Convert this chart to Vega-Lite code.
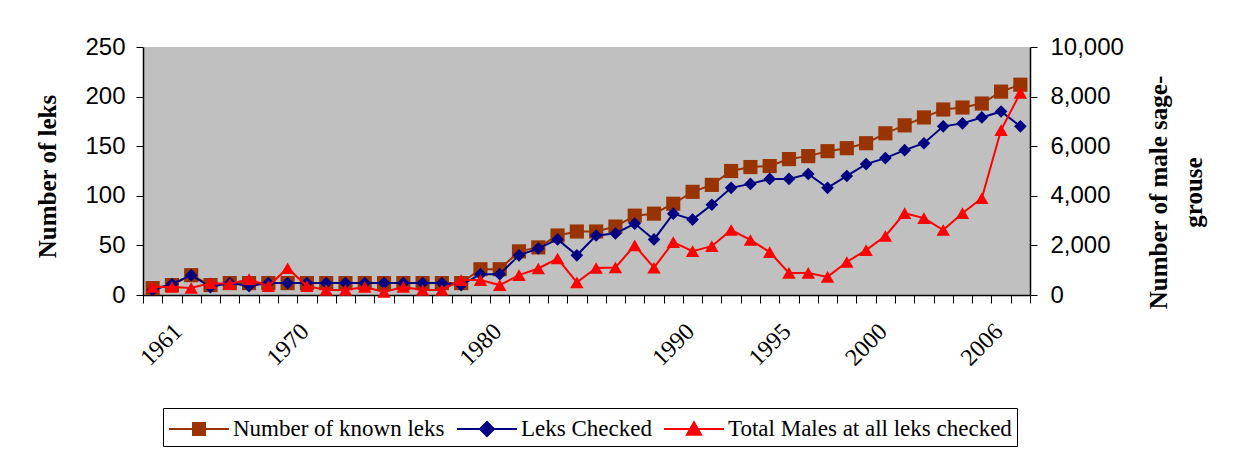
{
  "$schema": "https://vega.github.io/schema/vega-lite/v6.json",
  "width": 887,
  "height": 248,
  "autosize": {"type": "none"},
  "padding": {"left": 143, "top": 47, "right": 229, "bottom": 164},
  "background": "white",
  "config": {
    "view": {"fill": "#C0C0C0", "stroke": null},
    "axis": {"grid": false, "domainColor": "black", "tickColor": "black", "labelColor": "black", "titleColor": "black", "domainWidth": 1.5, "tickWidth": 1}
  },
  "data": {"values": [
    {"year": 1961, "known": 7, "checked": 5, "males": 320},
    {"year": 1962, "known": 10, "checked": 11, "males": 320},
    {"year": 1963, "known": 20, "checked": 20, "males": 280},
    {"year": 1964, "known": 10, "checked": 8, "males": 480},
    {"year": 1965, "known": 12, "checked": 12, "males": 440},
    {"year": 1966, "known": 12, "checked": 9, "males": 640},
    {"year": 1967, "known": 12, "checked": 12, "males": 360},
    {"year": 1968, "known": 12, "checked": 12, "males": 1080},
    {"year": 1969, "known": 12, "checked": 12, "males": 360},
    {"year": 1970, "known": 12, "checked": 12, "males": 200},
    {"year": 1971, "known": 12, "checked": 12, "males": 200},
    {"year": 1972, "known": 12, "checked": 12, "males": 320},
    {"year": 1973, "known": 12, "checked": 12, "males": 120},
    {"year": 1974, "known": 12, "checked": 12, "males": 320},
    {"year": 1975, "known": 12, "checked": 12, "males": 200},
    {"year": 1976, "known": 12, "checked": 12, "males": 200},
    {"year": 1977, "known": 12, "checked": 10, "males": 600},
    {"year": 1978, "known": 26, "checked": 21, "males": 600},
    {"year": 1979, "known": 26, "checked": 21, "males": 400},
    {"year": 1980, "known": 44, "checked": 40, "males": 800},
    {"year": 1981, "known": 48, "checked": 47, "males": 1070},
    {"year": 1982, "known": 60, "checked": 56, "males": 1470},
    {"year": 1983, "known": 64, "checked": 40, "males": 510},
    {"year": 1984, "known": 64, "checked": 60, "males": 1090},
    {"year": 1985, "known": 69, "checked": 62, "males": 1110},
    {"year": 1986, "known": 80, "checked": 72, "males": 2000},
    {"year": 1987, "known": 82, "checked": 56, "males": 1100},
    {"year": 1988, "known": 92, "checked": 82, "males": 2130},
    {"year": 1989, "known": 104, "checked": 76, "males": 1770},
    {"year": 1990, "known": 111, "checked": 91, "males": 1970},
    {"year": 1991, "known": 125, "checked": 108, "males": 2620},
    {"year": 1992, "known": 129, "checked": 112, "males": 2220},
    {"year": 1993, "known": 130, "checked": 117, "males": 1730},
    {"year": 1994, "known": 137, "checked": 117, "males": 890},
    {"year": 1995, "known": 140, "checked": 122, "males": 890},
    {"year": 1996, "known": 145, "checked": 108, "males": 730},
    {"year": 1997, "known": 148, "checked": 120, "males": 1330},
    {"year": 1998, "known": 153, "checked": 132, "males": 1810},
    {"year": 1999, "known": 163, "checked": 138, "males": 2380},
    {"year": 2000, "known": 171, "checked": 146, "males": 3300},
    {"year": 2001, "known": 179, "checked": 153, "males": 3100},
    {"year": 2002, "known": 187, "checked": 170, "males": 2620},
    {"year": 2003, "known": 189, "checked": 173, "males": 3300},
    {"year": 2004, "known": 193, "checked": 179, "males": 3900},
    {"year": 2005, "known": 205, "checked": 185, "males": 6650},
    {"year": 2006, "known": 212, "checked": 170, "males": 8150}
  ]},
  "encoding": {
    "x": {
      "field": "year", "type": "ordinal", "bandPosition": 0.5, "title": null,
      "scale": {"type": "band", "paddingInner": 0, "paddingOuter": 0},
      "axis": {
        "tickBand": "extent", "tickSize": 8, "labelAngle": -45, "labelAlign": "right", "labelBaseline": "top",
        "labelPadding": 16, "labelFont": "Liberation Serif", "labelFontSize": 24, "labelOverlap": false,
        "labelOffset": {"condition": {"test": "datum.value == 1961", "value": 17}, "value": -30},
        "labelExpr": "(datum.value == 1961 || datum.value == 1970 || datum.value == 1980 || datum.value == 1990 || datum.value == 1995 || datum.value == 2000 || datum.value == 2006) ? datum.label : ''"
      }
    }
  },
  "layer": [
    {
      "layer": [
        {
          "mark": {"type": "line", "color": "#993300", "strokeWidth": 2},
          "encoding": {"y": {"field": "known", "type": "quantitative", "scale": {"domain": [0, 250]},
            "axis": {"title": "Number of leks", "titleFont": "Liberation Serif", "titleFontSize": 25, "titleFontWeight": "bold",
              "titleAngle": 270, "titleX": -108, "titleY": 129, "titleAlign": "center", "titleBaseline": "top",
              "labelFont": "Liberation Sans", "labelFontSize": 24, "values": [0, 50, 100, 150, 200, 250], "tickSize": 7, "labelPadding": 11}}}
        },
        {
          "mark": {"type": "point", "shape": "square", "filled": true, "color": "#993300", "size": 200, "opacity": 1},
          "encoding": {"y": {"field": "known", "type": "quantitative", "scale": {"domain": [0, 250]},
            "axis": {"title": "Number of leks", "titleFont": "Liberation Serif", "titleFontSize": 25, "titleFontWeight": "bold",
              "titleAngle": 270, "titleX": -108, "titleY": 129, "titleAlign": "center", "titleBaseline": "top",
              "labelFont": "Liberation Sans", "labelFontSize": 24, "values": [0, 50, 100, 150, 200, 250], "tickSize": 7, "labelPadding": 11}}}
        },
        {
          "mark": {"type": "line", "color": "#000080", "strokeWidth": 2},
          "encoding": {"y": {"field": "checked", "type": "quantitative", "scale": {"domain": [0, 250]},
            "axis": {"title": "Number of leks", "titleFont": "Liberation Serif", "titleFontSize": 25, "titleFontWeight": "bold",
              "titleAngle": 270, "titleX": -108, "titleY": 129, "titleAlign": "center", "titleBaseline": "top",
              "labelFont": "Liberation Sans", "labelFontSize": 24, "values": [0, 50, 100, 150, 200, 250], "tickSize": 7, "labelPadding": 11}}}
        },
        {
          "mark": {"type": "point", "shape": "diamond", "filled": true, "color": "#000080", "size": 160, "opacity": 1},
          "encoding": {"y": {"field": "checked", "type": "quantitative", "scale": {"domain": [0, 250]},
            "axis": {"title": "Number of leks", "titleFont": "Liberation Serif", "titleFontSize": 25, "titleFontWeight": "bold",
              "titleAngle": 270, "titleX": -108, "titleY": 129, "titleAlign": "center", "titleBaseline": "top",
              "labelFont": "Liberation Sans", "labelFontSize": 24, "values": [0, 50, 100, 150, 200, 250], "tickSize": 7, "labelPadding": 11}}}
        }
      ]
    },
    {
      "layer": [
        {
          "mark": {"type": "line", "color": "#FF0000", "strokeWidth": 2},
          "encoding": {"y": {"field": "males", "type": "quantitative", "scale": {"domain": [0, 10000]},
            "axis": {"orient": "right", "title": ["Number of male sage-", "grouse"], "titleFont": "Liberation Serif", "titleFontSize": 25, "titleFontWeight": "bold",
              "titleAngle": 270, "titleX": 116, "titleY": 145, "titleAlign": "center", "titleBaseline": "top", "titleLineHeight": 35,
              "labelFont": "Liberation Sans", "labelFontSize": 24, "values": [0, 2000, 4000, 6000, 8000, 10000], "format": ",.0f", "tickSize": 7, "labelPadding": 13}}}
        },
        {
          "mark": {"type": "point", "shape": "triangle-up", "filled": true, "color": "#FF0000", "size": 180, "opacity": 1},
          "encoding": {"y": {"field": "males", "type": "quantitative", "scale": {"domain": [0, 10000]},
            "axis": {"orient": "right", "title": ["Number of male sage-", "grouse"], "titleFont": "Liberation Serif", "titleFontSize": 25, "titleFontWeight": "bold",
              "titleAngle": 270, "titleX": 116, "titleY": 145, "titleAlign": "center", "titleBaseline": "top", "titleLineHeight": 35,
              "labelFont": "Liberation Sans", "labelFontSize": 24, "values": [0, 2000, 4000, 6000, 8000, 10000], "format": ",.0f", "tickSize": 7, "labelPadding": 13}}}
        }
      ]
    },
    {
      "transform": [{"filter": "false"}],
      "mark": {"type": "point", "filled": true, "opacity": 1},
      "encoding": {
        "fill": {"field": "series", "type": "nominal",
          "scale": {"domain": ["Number of known leks", "Leks Checked", "Total Males at all leks checked"], "range": ["#993300", "#000080", "#FF0000"]},
          "legend": {"title": null, "orient": "none", "legendX": 20, "legendY": 361, "direction": "horizontal", "columns": 3,
            "strokeColor": "black", "padding": 5, "symbolSize": 900, "symbolStrokeWidth": 2, "labelFont": "Liberation Serif", "labelFontSize": 23,
            "labelColor": "black", "labelOffset": 33, "columnPadding": 8, "fillColor": "white", "labelLimit": 500}},
        "stroke": {"field": "series", "type": "nominal",
          "scale": {"domain": ["Number of known leks", "Leks Checked", "Total Males at all leks checked"], "range": ["#993300", "#000080", "#FF0000"]},
          "legend": {"title": null, "orient": "none", "legendX": 20, "legendY": 361, "direction": "horizontal", "columns": 3,
            "strokeColor": "black", "padding": 5, "symbolSize": 900, "symbolStrokeWidth": 2, "labelFont": "Liberation Serif", "labelFontSize": 23,
            "labelColor": "black", "labelOffset": 33, "columnPadding": 8, "fillColor": "white", "labelLimit": 500}},
        "shape": {"field": "series", "type": "nominal",
          "scale": {"domain": ["Number of known leks", "Leks Checked", "Total Males at all leks checked"],
            "range": ["M-1,0L3,0M0.6,-0.4L1.4,-0.4L1.4,0.4L0.6,0.4Z", "M-1,0L3,0M1,-0.47L1.47,0L1,0.47L0.53,0Z", "M-1,0L3,0M1,-0.45L1.47,0.38L0.53,0.38Z"]},
          "legend": {"title": null, "orient": "none", "legendX": 20, "legendY": 361, "direction": "horizontal", "columns": 3,
            "strokeColor": "black", "padding": 5, "symbolSize": 900, "symbolStrokeWidth": 2, "labelFont": "Liberation Serif", "labelFontSize": 23,
            "labelColor": "black", "labelOffset": 33, "columnPadding": 8, "fillColor": "white", "labelLimit": 500}}
      }
    }
  ],
  "resolve": {"scale": {"y": "independent"}}
}
